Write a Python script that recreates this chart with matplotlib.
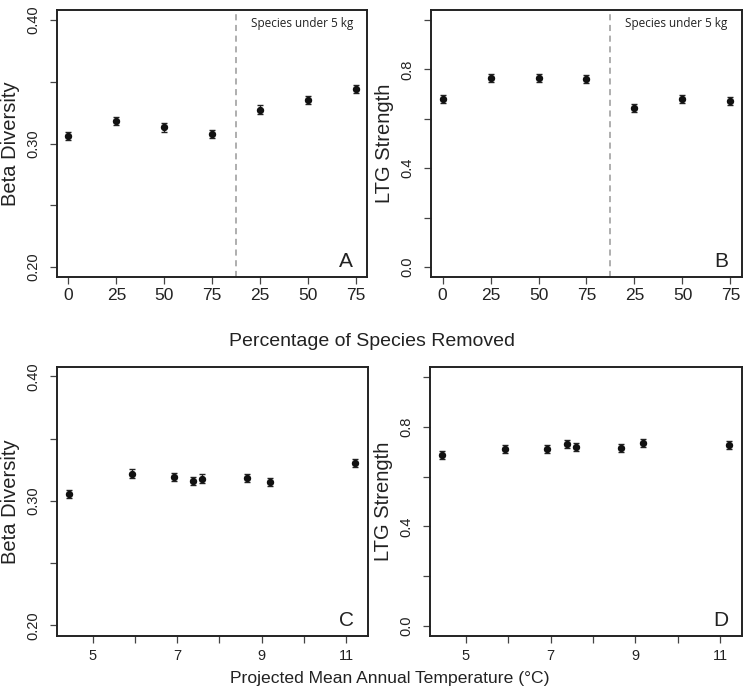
import matplotlib
matplotlib.use("Agg")
import matplotlib.pyplot as plt

plt.rcParams['font.family'] = ['Liberation Sans', 'DejaVu Sans']

# ---- data ----
rem_pos = [1, 2, 3, 4, 5, 6, 7]
rem_labels = ['0', '25', '50', '75', '25', '50', '75']
beta_removed = [0.306, 0.318, 0.313, 0.308, 0.3275, 0.335, 0.344]
beta_removed_err = [0.0033, 0.0033, 0.0033, 0.0033, 0.0033, 0.0033, 0.0033]
ltg_removed = [0.681, 0.765, 0.764, 0.761, 0.645, 0.681, 0.672]
ltg_removed_err = [0.016, 0.016, 0.016, 0.016, 0.016, 0.016, 0.016]

temps = [4.43, 5.93, 6.92, 7.38, 7.59, 8.66, 9.19, 11.22]
beta_temp = [0.3056, 0.3219, 0.3193, 0.3158, 0.3179, 0.3184, 0.3152, 0.3302]
beta_temp_err = [0.0033] * 8
ltg_temp = [0.685, 0.710, 0.709, 0.729, 0.720, 0.716, 0.734, 0.726]
ltg_temp_err = [0.016] * 8

divider = 4.5
divider_text = 'Species under 5 kg'

W, H = 747, 694
fig = plt.figure(figsize=(W / 100, H / 100), dpi=100)

def rect(l, r, t, b):
    return [l / W, 1 - b / H, (r - l) / W, (b - t) / H]

axA = fig.add_axes(rect(57, 367, 10, 277))
axB = fig.add_axes(rect(431, 742, 10, 277))
axC = fig.add_axes(rect(57, 368, 367, 636))
axD = fig.add_axes(rect(430, 742, 367, 636))

def style(ax):
    for s in ax.spines.values():
        s.set_linewidth(1.4)
        s.set_color('#222222')
    ax.tick_params(axis='both', direction='out', length=5, width=0.9,
                   color='#444444', labelcolor='#222222')
    ax.tick_params(axis='y', pad=7, labelsize=10.5)
    for lab in ax.get_yticklabels():
        lab.set_rotation(90)
        lab.set_va('center')

def points(ax, x, y, e):
    ax.errorbar(x, y, yerr=e, fmt='o', color='#111111', ms=4.3,
                ecolor='#222222', elinewidth=1.0, capsize=2.3, capthick=1.0)

# Panel A
points(axA, rem_pos, beta_removed, beta_removed_err)
axA.set_ylim(0.192, 0.408)
axA.set_yticks([0.20, 0.25, 0.30, 0.35, 0.40])
axA.set_yticklabels(['0.20', '', '0.30', '', '0.40'])
axA.set_ylabel('Beta Diversity', fontsize=14.5, color='#222222')

# Panel B
points(axB, rem_pos, ltg_removed, ltg_removed_err)
axB.set_ylim(-0.04, 1.04)
axB.set_yticks([0.0, 0.2, 0.4, 0.6, 0.8, 1.0])
axB.set_yticklabels(['0.0', '', '0.4', '', '0.8', ''])
axB.set_ylabel('LTG Strength', fontsize=14.5, color='#222222')

for ax, letter in [(axA, 'A'), (axB, 'B')]:
    ax.set_xlim(0.76, 7.24)
    ax.set_xticks(rem_pos)
    ax.set_xticklabels(rem_labels)
    ax.axvline(divider, color='#999999', lw=1.1, ls=(0, (4, 3)))
    ax.text(0.625, 0.948, divider_text, transform=ax.transAxes, ha='left',
            va='center', fontsize=8.5, family=['Open Sans', 'DejaVu Sans'],
            color='#222222')
    ax.text(0.955, 0.022, letter, transform=ax.transAxes, ha='right',
            va='bottom', fontsize=15, color='#222222')
    style(ax)
    ax.tick_params(axis='x', pad=3, labelsize=12.5)
    ax.yaxis.set_label_coords(-0.119, 0.5)

# Panel C
points(axC, temps, beta_temp, beta_temp_err)
axC.set_ylim(0.1915, 0.4075)
axC.set_yticks([0.20, 0.25, 0.30, 0.35, 0.40])
axC.set_yticklabels(['0.20', '', '0.30', '', '0.40'])
axC.set_ylabel('Beta Diversity', fontsize=14.5, color='#222222')

# Panel D
points(axD, temps, ltg_temp, ltg_temp_err)
axD.set_ylim(-0.04, 1.04)
axD.set_yticks([0.0, 0.2, 0.4, 0.6, 0.8, 1.0])
axD.set_yticklabels(['0.0', '', '0.4', '', '0.8', ''])
axD.set_ylabel('LTG Strength', fontsize=14.5, color='#222222')

for ax, letter in [(axC, 'C'), (axD, 'D')]:
    ax.set_xlim(4.15, 11.52)
    ax.set_xticks([5, 6, 7, 8, 9, 10, 11])
    ax.set_xticklabels(['5', '', '7', '', '9', '', '11'])
    ax.text(0.955, 0.022, letter, transform=ax.transAxes, ha='right',
            va='bottom', fontsize=15, color='#222222')
    style(ax)
    ax.tick_params(axis='x', pad=4, labelsize=10.5)
    ax.yaxis.set_label_coords(-0.119, 0.5)

fig.text(372 / W, 1 - 342 / H, 'Percentage of Species Removed', ha='center',
         va='center', fontsize=14, color='#222222')
fig.text(390 / W, 1 - 679 / H, 'Projected Mean Annual Temperature (°C)',
         ha='center', va='center', fontsize=12.6, color='#222222')

fig.savefig('out.png', dpi=100)
